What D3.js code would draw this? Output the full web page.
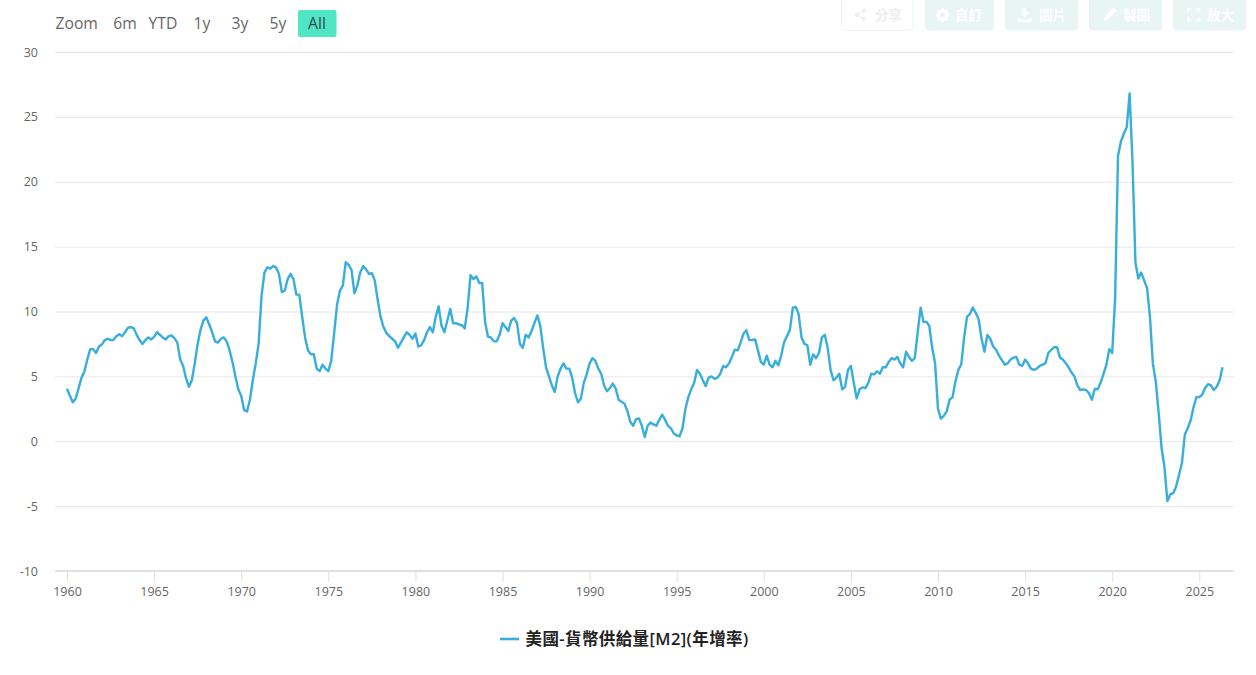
<!DOCTYPE html>
<html lang="zh-Hant">
<head>
    <meta charset="UTF-8">
    <title>美國-貨幣供給量[M2](年增率)</title>
    <script src="https://d3js.org/d3.v7.min.js"></script>
    <style>
        html, body { margin: 0; padding: 0; background: #fff; overflow: hidden; }
        text { font-family: "Open Sans", "Noto Sans CJK TC", sans-serif; }
    </style>
</head>
<body>
    <div id="chart"></div>

    <script>
        const seriesName = "美國-貨幣供給量[M2](年增率)";
        const rangeLabels = ["6m", "YTD", "1y", "3y", "5y", "All"];
        const toolLabels = ["分享", "自訂", "圖片", "製圖", "放大"];
        const yearTicks = d3.range(1960, 2026, 5);
        const valueTicks = [-10, -5, 0, 5, 10, 15, 20, 25, 30];
        const firstYear = 1960;

        // one row per year, read every two months off the picture
        const growth1960s = [
            4.05, 3.5, 3.0, 3.3, 4.1, 4.9,
            5.4, 6.3, 7.1, 7.1, 6.8, 7.3,
            7.45, 7.8, 7.9, 7.8, 7.8, 8.1,
            8.25, 8.1, 8.4, 8.75, 8.8, 8.7,
            8.2, 7.8, 7.5, 7.8, 8.0, 7.85,
            8.05, 8.4, 8.2, 8.0, 7.85, 8.1,
            8.15, 7.95, 7.6, 6.3, 5.8, 4.85,
            4.2, 4.7, 6.0, 7.5, 8.6, 9.3,
            9.55, 9.0, 8.4, 7.7, 7.6, 7.9,
            8.0, 7.7, 7.0, 6.1, 5.0, 4.0
        ];
        const growth1970s = [
            3.5, 2.4, 2.3, 3.2, 4.7, 6.0,
            7.5, 11.2, 13.0, 13.4, 13.3, 13.5,
            13.4, 12.9, 11.5, 11.6, 12.5, 12.9,
            12.5, 11.3, 11.3, 9.6, 8.0, 7.0,
            6.7, 6.7, 5.6, 5.4, 5.9, 5.6,
            5.4, 6.2, 8.3, 10.5, 11.6, 12.0,
            13.8, 13.6, 13.2, 11.4, 12.0, 13.0,
            13.5, 13.25, 12.9, 12.95, 12.4, 10.9,
            9.6, 8.8, 8.35, 8.1, 7.9, 7.7,
            7.2, 7.6, 8.0, 8.4, 8.2, 7.9
        ];
        const growth1980s = [
            8.3, 7.3, 7.4, 7.8, 8.4, 8.8,
            8.4, 9.6, 10.4, 8.9, 8.4, 9.3,
            10.2, 9.1, 9.1, 9.0, 8.95, 8.7,
            10.3, 12.8, 12.5, 12.7, 12.2, 12.2,
            9.2, 8.05, 8.0, 7.7, 7.7, 8.2,
            9.1, 8.8, 8.5, 9.3, 9.5, 9.1,
            7.5, 7.2, 8.2, 8.0, 8.5, 9.1,
            9.7, 8.9, 7.2, 5.7, 5.0, 4.3,
            3.8, 5.0, 5.6, 6.0, 5.6, 5.6,
            4.9, 3.7, 3.0, 3.3, 4.5, 5.15
        ];
        const growth1990s = [
            6.0, 6.4, 6.2, 5.6, 5.2, 4.3,
            3.85, 4.1, 4.45, 4.05, 3.2, 3.05,
            2.9, 2.35, 1.5, 1.2, 1.7, 1.75,
            1.2, 0.33, 1.2, 1.45, 1.3, 1.2,
            1.65, 2.05, 1.65, 1.2, 1.0, 0.6,
            0.45, 0.38, 1.0, 2.5, 3.4, 4.0,
            4.5, 5.5, 5.2, 4.7, 4.25, 4.9,
            5.0, 4.8, 4.9, 5.2, 5.8, 5.7,
            6.0, 6.5, 7.05, 7.0, 7.6, 8.3,
            8.55, 7.8, 7.8, 7.85, 7.0, 6.1
        ];
        const growth2000s = [
            5.9, 6.6, 5.9, 5.7, 6.2, 5.85,
            6.6, 7.65, 8.1, 8.6, 10.3, 10.35,
            9.8, 8.0, 7.5, 7.4, 5.9, 6.7,
            6.4, 6.8, 8.0, 8.2, 7.2, 5.5,
            4.7, 4.9, 5.2, 4.0, 4.2, 5.5,
            5.8, 4.5, 3.3, 4.0, 4.15, 4.1,
            4.5, 5.2, 5.15, 5.4, 5.2, 5.7,
            5.7, 6.1, 6.4, 6.3, 6.5, 6.0,
            5.7, 6.9, 6.5, 6.2, 6.4, 8.4,
            10.3, 9.2, 9.2, 8.9, 7.2, 6.0
        ];
        const growth2010s = [
            2.5, 1.75, 1.95, 2.3, 3.2, 3.4,
            4.6, 5.5, 5.9, 8.0, 9.6, 9.8,
            10.3, 9.9, 9.4, 7.9, 6.9, 8.2,
            7.9, 7.3, 7.05, 6.6, 6.25, 5.9,
            6.0, 6.3, 6.45, 6.5, 5.9, 5.8,
            6.3, 6.0, 5.6, 5.5, 5.6, 5.8,
            5.9, 6.0, 6.8, 7.05, 7.25, 7.25,
            6.45, 6.3, 6.0, 5.7, 5.3, 5.0,
            4.3, 3.95, 4.0, 3.95, 3.7, 3.2,
            4.05, 4.0, 4.5, 5.2, 5.9, 7.1
        ];
        const growth2020s = [
            6.8, 11.0, 22.0, 23.1, 23.7, 24.2,
            26.8, 21.5, 13.8, 12.55, 13.0, 12.4,
            11.8, 9.6, 6.0, 4.6, 2.2, -0.5,
            -2.0, -4.6, -4.1, -4.0, -3.5, -2.6,
            -1.7, 0.5, 1.0, 1.6, 2.6, 3.4,
            3.4, 3.6, 4.1, 4.4, 4.3, 3.95,
            4.2, 4.7, 5.7
        ];

        const growth = [].concat(growth1960s, growth1970s, growth1980s, growth1990s, growth2000s, growth2010s, growth2020s);

        const width = 1256;
        const height = 675;
        const lineColor = "#37aedb";
        const gridColor = "#e6e6e6";
        const labelColor = "#666666";

        const svg = d3.select("#chart")
            .append("svg")
            .attr("width", width)
            .attr("height", height)
            .attr("viewBox", [0, 0, width, height])
            .style("display", "block");

        const x = d3.scaleLinear().domain([1960, 2025]).range([67, 1199.3]);
        const y = d3.scaleLinear().domain([-10, 30]).range([571, 52]);

        // value axis and grid
        const yAxis = svg.append("g")
            .attr("transform", "translate(55,0)")
            .call(d3.axisLeft(y).tickValues(valueTicks).tickFormat(d => String(d)).tickSize(0).tickPadding(17));
        yAxis.select(".domain").remove();
        yAxis.selectAll("text")
            .attr("fill", labelColor)
            .style("font-size", "12.5px");
        yAxis.selectAll(".tick line")
            .attr("x2", 1178.5)
            .attr("stroke", d => d === -10 ? "none" : gridColor);

        // year axis
        const xAxis = svg.append("g")
            .attr("transform", "translate(0,571)")
            .call(d3.axisBottom(x).tickValues(yearTicks).tickFormat(d3.format("d")).tickSize(11).tickPadding(5).tickSizeOuter(0));
        xAxis.select(".domain")
            .attr("d", "M55,0H1233.5")
            .attr("stroke", "#e0e0e0")
            .attr("stroke-width", 2);
        xAxis.selectAll(".tick line").attr("stroke", "#e0e0e0");
        xAxis.selectAll("text")
            .attr("fill", labelColor)
            .style("font-size", "12.5px");

        const line = d3.line()
            .x((d, i) => x(firstYear + i / 6))
            .y(d => y(d));

        svg.append("path")
            .datum(growth)
            .attr("d", line)
            .attr("fill", "none")
            .attr("stroke", lineColor)
            .attr("stroke-width", 2.4)
            .attr("stroke-linejoin", "round");

        // legend
        const legend = svg.append("g").attr("transform", "translate(500,639)");
        legend.append("line")
            .attr("x2", 19)
            .attr("stroke", lineColor)
            .attr("stroke-width", 2.6);
        legend.append("text")
            .attr("x", 25.5)
            .attr("y", 5.5)
            .attr("fill", "#222")
            .style("font-size", "16.5px")
            .style("font-weight", 600)
            .style("letter-spacing", "0.4px")
            .text(seriesName);

        // range selector
        const rangeBar = svg.append("g");
        rangeBar.append("text")
            .attr("x", 55.5)
            .attr("y", 29)
            .attr("fill", labelColor)
            .style("font-size", "15.7px")
            .text("Zoom");

        const rangeCenters = [125, 163, 202, 240, 278, 317];
        rangeBar.append("rect")
            .attr("x", 298)
            .attr("y", 10)
            .attr("width", 38.5)
            .attr("height", 27)
            .attr("rx", 2)
            .attr("fill", "#50e6c3");
        rangeBar.selectAll(".range")
            .data(rangeLabels)
            .join("text")
            .attr("class", "range")
            .attr("x", (d, i) => rangeCenters[i])
            .attr("y", 29)
            .attr("text-anchor", "middle")
            .attr("fill", d => d === "All" ? "#2b4a4f" : labelColor)
            .style("font-size", "15.7px")
            .text(d => d);

        // faded toolbar
        const toolLefts = [841.5, 925, 1005, 1089, 1173];
        const toolWidths = [71.5, 69, 73, 73, 73];
        const toolIconLeft = [12, 10, 12, 13, 13];
        const toolIcons = [
            "M12 2.5a2.6 2.6 0 1 1-1 4.1L6.6 9a2.6 2.6 0 0 1 0 1.4l4.4 2.4a2.6 2.6 0 1 1-.8 1.4l-4.6-2.5a2.6 2.6 0 1 1 0-3.9l4.6-2.5A2.6 2.6 0 0 1 12 2.5z",
            "M8 1.5h3l.4 2 1.5.7 1.8-1.1 2 2-1.1 1.8.7 1.6 2 .4v3l-2 .4-.7 1.5 1.1 1.8-2 2-1.8-1.1-1.5.7-.4 2H8l-.4-2-1.5-.7-1.8 1.1-2-2 1.1-1.8-.7-1.5-2-.4v-3l2-.4.7-1.6-1.1-1.8 2-2 1.8 1.1 1.5-.7zM9.500 7a3 3 0 1 0 .01 0z",
            "M7 1h5v6h3.500l-6 6-6-6H7zM1 14h4l2.500 2.500h4L14 14h4v5H1z",
            "M13 2l4 4L7 16l-5 1.500L3.500 12zM14.500 1l4 4-1 1-4-4z",
            "M1 1h5v2.500H3.500V6H1zM13 1h5v5h-2.500V3.500H13zM1 13h2.500v2.500H6V18H1zM15.500 13H18v5h-5v-2.500h2.500z"
        ];

        const tools = svg.append("g").selectAll("g")
            .data(toolLabels)
            .join("g")
            .attr("transform", (d, i) => `translate(${toolLefts[i]},0)`);
        tools.append("rect")
            .attr("y", -6)
            .attr("width", (d, i) => toolWidths[i])
            .attr("height", 36.5)
            .attr("rx", 4)
            .attr("fill", (d, i) => i === 0 ? "#fff" : "#e8f5f2")
            .attr("stroke", (d, i) => i === 0 ? "#f2f2f2" : "none");
        tools.append("path")
            .attr("d", (d, i) => toolIcons[i])
            .attr("transform", (d, i) => `translate(${toolIconLeft[i]},7) scale(0.8)`)
            .attr("fill", (d, i) => i === 0 ? "#eeeeee" : "#fff")
            .attr("fill-rule", "evenodd");
        tools.append("text")
            .attr("x", (d, i) => toolWidths[i] - (i === 0 ? 11 : 12))
            .attr("y", 20)
            .attr("text-anchor", "end")
            .attr("fill", (d, i) => i === 0 ? "#eeeeee" : "#fff")
            .style("font-size", "13.500px")
            .style("font-weight", 600)
            .text(d => d);
    </script>
</body>
</html>
